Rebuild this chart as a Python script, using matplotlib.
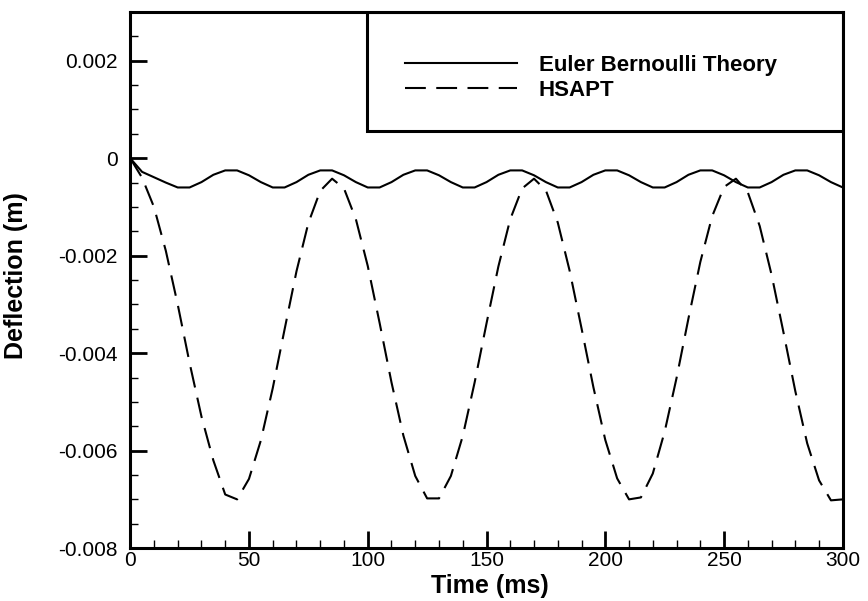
import numpy as np
import matplotlib.pyplot as plt
from matplotlib.patches import Rectangle
from matplotlib.ticker import MultipleLocator

plt.rcParams['font.family'] = ['Liberation Sans', 'DejaVu Sans']

# time axis (ms), read every 5 ms
time_ms = np.arange(0, 301, 5)

# Euler Bernoulli Theory deflection (m)
euler = [
    0.0, -0.00028, -0.00039, -0.00050, -0.00060, -0.00060,
    -0.00049, -0.00034, -0.00025, -0.00025, -0.00035, -0.00049, -0.00060, -0.00060,
    -0.00049, -0.00034, -0.00025, -0.00025, -0.00035, -0.00049, -0.00060, -0.00060,
    -0.00049, -0.00034, -0.00025, -0.00025, -0.00035, -0.00049, -0.00060, -0.00060,
    -0.00049, -0.00034, -0.00025, -0.00025, -0.00035, -0.00049, -0.00060, -0.00060,
    -0.00049, -0.00034, -0.00025, -0.00025, -0.00035, -0.00049, -0.00060, -0.00060,
    -0.00049, -0.00034, -0.00025, -0.00025, -0.00035, -0.00049, -0.00060, -0.00060,
    -0.00049, -0.00034, -0.00025, -0.00025, -0.00035, -0.00049, -0.00060,
]

# HSAPT deflection (m)
hsapt = [
    0.0, -0.00040, -0.00100, -0.00190, -0.00300, -0.00420, -0.00530, -0.00620,
    -0.00690, -0.00700, -0.00658, -0.00579, -0.00472, -0.00351, -0.00232, -0.00133,
    -0.00067, -0.00042, -0.00062, -0.00125, -0.00221, -0.00338, -0.00460, -0.00569,
    -0.00652, -0.00698, -0.00698, -0.00652, -0.00570, -0.00460, -0.00339, -0.00222,
    -0.00125, -0.00062, -0.00042, -0.00066, -0.00132, -0.00231, -0.00349, -0.00470,
    -0.00578, -0.00657, -0.00700, -0.00696, -0.00647, -0.00561, -0.00451, -0.00329,
    -0.00213, -0.00119, -0.00059, -0.00042, -0.00070, -0.00139, -0.00239, -0.00357,
    -0.00478, -0.00585, -0.00661, -0.00702, -0.00700,
]

yticks = [-0.008, -0.006, -0.004, -0.002, 0, 0.002]
ytick_labels = ['-0.008', '-0.006', '-0.004', '-0.002', '0', '0.002']
xticks = [0, 50, 100, 150, 200, 250, 300]

fig = plt.figure(figsize=(8.68, 6.01), dpi=100)
ax = fig.add_axes([0.150, 0.088, 0.821, 0.892])

ax.plot(time_ms, euler, color='black', lw=1.5, label='Euler Bernoulli Theory')
ax.plot(time_ms, hsapt, color='black', lw=1.5, dashes=(10, 5), label='HSAPT')

ax.set_xlim(0, 300)
ax.set_ylim(-0.008, 0.003)
ax.set_xticks(xticks)
ax.set_yticks(yticks)
ax.set_yticklabels(ytick_labels)
ax.xaxis.set_minor_locator(MultipleLocator(10))
ax.yaxis.set_minor_locator(MultipleLocator(0.0005))
ax.tick_params(which='major', direction='in', length=12, width=2, labelsize=15,
               top=False, right=False)
ax.tick_params(axis='y', which='major', pad=9)
ax.tick_params(axis='x', which='major', pad=2)
ax.tick_params(which='minor', direction='in', length=6, width=1,
               top=False, right=False)
for s in ax.spines.values():
    s.set_linewidth(2.2)

ax.set_xlabel('Time (ms)', fontsize=18, fontweight='bold')
ax.set_ylabel('Deflection (m)', fontsize=18, fontweight='bold')
ax.xaxis.set_label_coords(0.505, -0.048)
ax.yaxis.set_label_coords(-0.143, 0.509)

# legend box in the top right corner
ax.add_patch(Rectangle((0.332, 0.778), 0.668, 0.222, transform=ax.transAxes,
                       fill=False, lw=2.2, edgecolor='black', zorder=5))
ax.legend(loc='center left', bbox_to_anchor=(0.386, 0.877), frameon=False,
          prop={'weight': 'bold', 'size': 16}, borderpad=0,
          borderaxespad=0, handlelength=5.05, handletextpad=0.95, labelspacing=0.2)

fig.savefig('out.png', dpi=100)
